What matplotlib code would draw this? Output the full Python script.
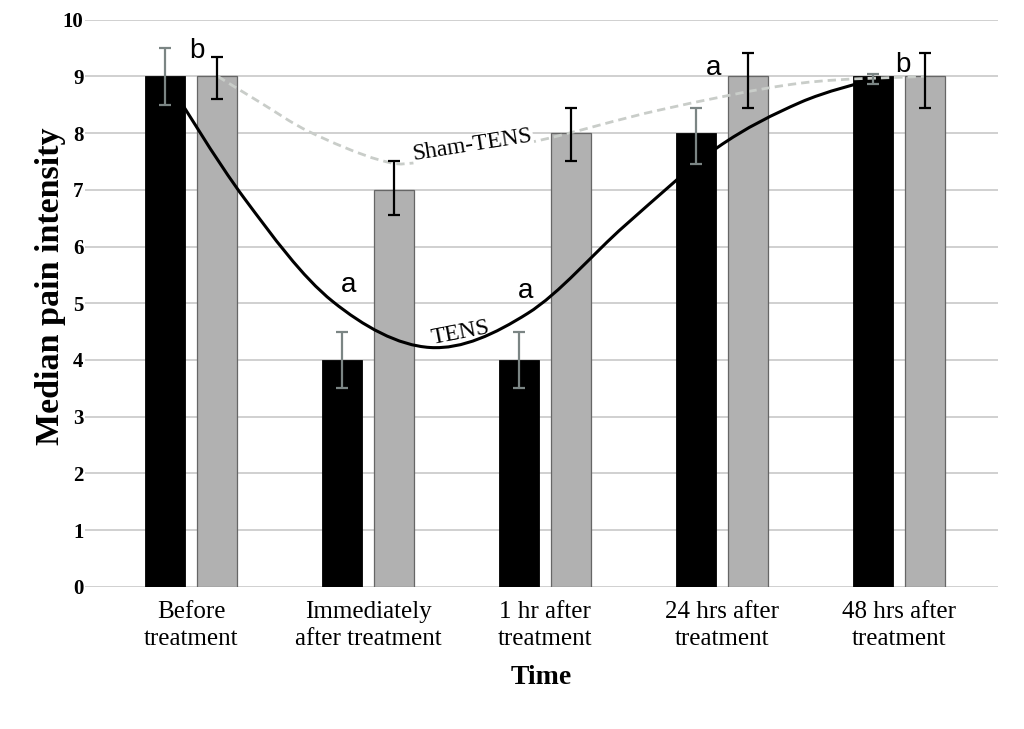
import matplotlib
matplotlib.use("Agg")
import matplotlib.pyplot as plt
import numpy as np
from matplotlib.path import Path
from matplotlib.patches import PathPatch

# data
categories = ["Before\ntreatment", "Immediately\nafter treatment", "1 hr after\ntreatment",
              "24 hrs after\ntreatment", "48 hrs after\ntreatment"]
tens = [9, 4, 4, 8, 9]
tens_lo = [8.5, 3.5, 3.5, 7.45, 8.87]
tens_hi = [9.5, 4.5, 4.5, 8.45, 9.05]
sham = [9, 7, 8, 9, 9]
sham_lo = [8.6, 6.55, 7.5, 8.45, 8.45]
sham_hi = [9.35, 7.5, 8.45, 9.42, 9.42]
letters = ["b", "a", "a", "a", "b"]

# hand-drawn smoothed trend lines (anchor points, category units)
tens_curve_x = [-0.15, 0.3, 0.8, 1.35, 1.9, 2.45, 2.97, 3.44, 3.85]
tens_curve_y = [9.0, 6.85, 5.03, 4.22, 4.82, 6.37, 7.74, 8.54, 8.95]
sham_curve_x = [0.15, 0.39, 0.67, 1.06, 1.3, 1.95, 2.65, 3.44, 4.15]
sham_curve_y = [9.0, 8.54, 8.02, 7.53, 7.49, 7.86, 8.41, 8.88, 9.0]


def smooth_path(xs, ys):
    # Catmull-Rom style bezier through the anchors, drawn by matplotlib
    p = np.column_stack([xs, ys]).astype(float)
    n = len(p)
    verts = [p[0]]
    codes = [Path.MOVETO]
    for i in range(n - 1):
        p0 = p[i - 1] if i > 0 else p[i]
        p3 = p[i + 2] if i + 2 < n else p[i + 1]
        c1 = p[i] + (p[i + 1] - p0) / 6.0
        c2 = p[i + 1] - (p3 - p[i]) / 6.0
        verts += [c1, c2, p[i + 1]]
        codes += [Path.CURVE4] * 3
    return Path(verts, codes)


serif = "Liberation Serif"
sans = "Liberation Sans"

fig = plt.figure(figsize=(10.24, 7.29), dpi=100)
ax = fig.add_axes([0.083, 0.195, 0.892, 0.778])

x = np.arange(len(categories))
w = 0.226
off = 0.147

ax.bar(x - off, tens, w, color="black", edgecolor="black", linewidth=0.6, zorder=2)
ax.bar(x + off, sham, w, color="#b1b1b1", edgecolor="#666666", linewidth=0.9, zorder=2)

t = np.array(tens); s = np.array(sham)
ax.errorbar(x - off, t, yerr=[t - np.array(tens_lo), np.array(tens_hi) - t], fmt="none",
            ecolor="#7b8584", elinewidth=1.6, capsize=4, capthick=1.6, zorder=4)
ax.errorbar(x + off, s, yerr=[s - np.array(sham_lo), np.array(sham_hi) - s], fmt="none",
            ecolor="black", elinewidth=1.6, capsize=4, capthick=1.6, zorder=4)

ax.add_patch(PathPatch(smooth_path(tens_curve_x, tens_curve_y), fill=False,
                       edgecolor="black", linewidth=2.2, zorder=3))
ax.add_patch(PathPatch(smooth_path(sham_curve_x, sham_curve_y), fill=False,
                       edgecolor="#c9cdc9", linewidth=2.0, linestyle=(0, (3, 1.8)), zorder=3))

ax.text(1.59, 7.78, "Sham-TENS", rotation=9, ha="center", va="center", fontsize=17,
        family=serif, zorder=5,
        bbox=dict(facecolor="white", edgecolor="none", pad=0.5))
ax.text(1.52, 4.47, "TENS", rotation=11, ha="center", va="center", fontsize=17,
        family=serif, zorder=5)

# significance letters
letter_pos = [(0.03, 9.45), (-0.11, 5.33), (-0.11, 5.22), (-0.05, 9.15), (0.02, 9.2)]
for (dx, yy), lab, xi in zip(letter_pos, letters, x):
    ax.text(xi + dx, yy, lab, ha="center", va="center", fontsize=20, family=sans, zorder=5)

ax.set_xlim(-0.6, 4.56)
ax.set_ylim(0, 10)
ax.set_yticks(range(0, 11))
ax.set_xticks(x)
ax.set_xticklabels(categories, fontsize=18, family=serif, linespacing=1.3)
for lab in ax.get_yticklabels():
    lab.set_fontfamily(serif)
    lab.set_fontweight("bold")
    lab.set_fontsize(15)
ax.tick_params(axis="both", length=0)
ax.tick_params(axis="y", pad=1)
ax.tick_params(axis="x", pad=10)
ax.grid(axis="y", color="#c4c4c4", linewidth=1.1, zorder=0)
ax.set_axisbelow(True)
for sp in ax.spines.values():
    sp.set_visible(False)

ax.set_xlabel("Time", fontsize=20, family=serif, fontweight="bold", labelpad=11)
ax.set_ylabel("Median pain intensity", fontsize=24.5, family=serif, fontweight="bold")
ax.yaxis.set_label_coords(-0.021, 0.53)

fig.savefig("out.png", dpi=100)
